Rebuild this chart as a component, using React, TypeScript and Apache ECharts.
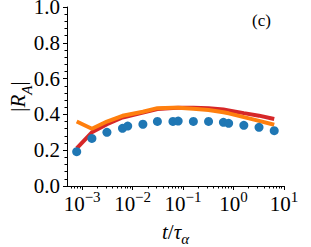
import { useEffect, useRef } from "react";
import * as echarts from "echarts";

// t / tau_alpha sample times (shared by all series)
const tValues = [0.00078, 0.00156, 0.0031, 0.0063, 0.008, 0.016, 0.031, 0.063, 0.08, 0.16, 0.32, 0.63, 0.8, 1.6, 3.2, 6.4];
// blue dots
const dotsRA = [0.192, 0.266, 0.3, 0.322, 0.335, 0.345, 0.361, 0.361, 0.363, 0.361, 0.361, 0.356, 0.35, 0.339, 0.328, 0.309];
// red curve
const redRA = [0.21, 0.3, 0.345, 0.383, 0.39, 0.41, 0.43, 0.436, 0.437, 0.437, 0.434, 0.427, 0.422, 0.407, 0.393, 0.374];
// orange curve
const orangeRA = [0.36, 0.32, 0.36, 0.392, 0.398, 0.415, 0.435, 0.437, 0.437, 0.432, 0.425, 0.412, 0.406, 0.385, 0.364, 0.342];

const xMajorExponents = [-3, -2, -1, 0, 1];
const xMinorMultipliers = [2, 3, 4, 5, 6, 7, 8, 9];
const xMinorDecades = [-4, -3, -2, -1, 0];
const xLogMin = -3.3;
const xLogMax = 1;
const yTicks = [0, 0.2, 0.4, 0.6, 0.8, 1.0];

const FONT = "Liberation Serif";

export default function App() {
  const ref = useRef<HTMLDivElement>(null);
  useEffect(() => {
    if (!ref.current) return;
    const chart = echarts.init(ref.current, null, { renderer: "svg" });
    const minor: number[] = [];
    xMinorDecades.forEach((n) =>
      xMinorMultipliers.forEach((k) => minor.push(Math.log10(k * Math.pow(10, n))))
    );
    const toPts = (ys: number[]) => tValues.map((t, i) => [Math.log10(t), ys[i]]);
    const axisColor = "#000";
    chart.setOption({
      animation: false,
      grid: { left: 67, right: 27, top: 7, bottom: 61, containLabel: false, outerBoundsMode: "none" },
      xAxis: [
        {
          type: "value",
          min: xLogMin,
          max: xLogMax,
          splitLine: { show: false },
          axisLine: { show: true, onZero: false, lineStyle: { color: axisColor, width: 1 } },
          axisTick: { show: true, length: 4, lineStyle: { color: axisColor }, customValues: xMajorExponents },
          axisLabel: {
            customValues: xMajorExponents,
            margin: 3,
            formatter: (v: number) => {
              const e = Math.round(v);
              const s = e < 0 ? "\u2212" + String(-e) : String(e);
              return "{b|10}{s|" + s + "}";
            },
            rich: {
              b: { fontFamily: FONT, fontSize: 21, color: "#000", lineHeight: 24, verticalAlign: "top", padding: [4, 0, 0, 0] },
              s: { fontFamily: FONT, fontSize: 15, color: "#000", lineHeight: 15, verticalAlign: "top" },
            },
          },
          name: "{i|t}{n|/}{i|\u03c4}{sub|\u03b1}",
          nameLocation: "middle",
          nameGap: 35,
          nameMoveOverlap: false,
          nameTextStyle: {
            rich: {
              i: { fontFamily: FONT, fontStyle: "italic", fontSize: 21, color: "#000", lineHeight: 24, verticalAlign: "top" },
              n: { fontFamily: FONT, fontSize: 21, color: "#000", lineHeight: 24, verticalAlign: "top" },
              sub: { fontFamily: FONT, fontStyle: "italic", fontSize: 15, color: "#000", lineHeight: 15, verticalAlign: "top", padding: [10, 0, 0, 0] },
            },
          },
        },
        {
          type: "value",
          min: xLogMin,
          max: xLogMax,
          position: "bottom",
          splitLine: { show: false },
          axisLine: { show: false, onZero: false },
          axisLabel: { show: false },
          axisTick: { show: true, length: 2.5, lineStyle: { color: axisColor }, customValues: minor },
        },
      ],
      yAxis: {
        type: "value",
        min: 0,
        max: 1,
        interval: 0.2,
        splitLine: { show: false },
        axisLine: { show: true, onZero: false, lineStyle: { color: axisColor, width: 1 } },
        axisTick: { show: true, length: 4, lineStyle: { color: axisColor } },
        minorTick: { show: true, splitNumber: 5, length: 2.5, lineStyle: { color: axisColor } },
        axisLabel: {
          customValues: yTicks,
          margin: 7,
          fontFamily: FONT,
          fontSize: 21,
          lineHeight: 14,
          color: "#000",
          formatter: (v: number) => v.toFixed(1),
        },
        name: "{n||}{i|R}{sub|A}{n||}",
        nameLocation: "middle",
        nameGap: 36,
        nameRotate: 90,
        nameMoveOverlap: false,
        nameTextStyle: {
          rich: {
            i: { fontFamily: FONT, fontStyle: "italic", fontSize: 21, color: "#000", lineHeight: 24, verticalAlign: "top" },
            n: { fontFamily: FONT, fontSize: 21, color: "#000", lineHeight: 24, verticalAlign: "top" },
            sub: { fontFamily: FONT, fontStyle: "italic", fontSize: 15, color: "#000", lineHeight: 15, verticalAlign: "top", padding: [12, 0, 0, 0] },
          },
        },
      },
      graphic: [
        {
          type: "text",
          left: 252,
          top: 12,
          style: { text: "(c)", fontFamily: FONT, fontSize: 17, fill: "#000" },
        },
      ],
      series: [
        {
          type: "line",
          data: toPts(redRA),
          symbol: "none",
          lineStyle: { color: "#d62728", width: 4 },
          z: 2,
        },
        {
          type: "line",
          data: toPts(orangeRA),
          symbol: "none",
          lineStyle: { color: "#ff7f0e", width: 4 },
          z: 3,
        },
        {
          type: "scatter",
          data: toPts(dotsRA),
          symbol: "circle",
          symbolSize: 9,
          itemStyle: { color: "#1f77b4", opacity: 1 },
          z: 4,
        },
      ],
    });
    return () => chart.dispose();
  }, []);
  return <div ref={ref} style={{ width: 311, height: 247, position: "absolute", left: 0, top: 0 }} />;
}
